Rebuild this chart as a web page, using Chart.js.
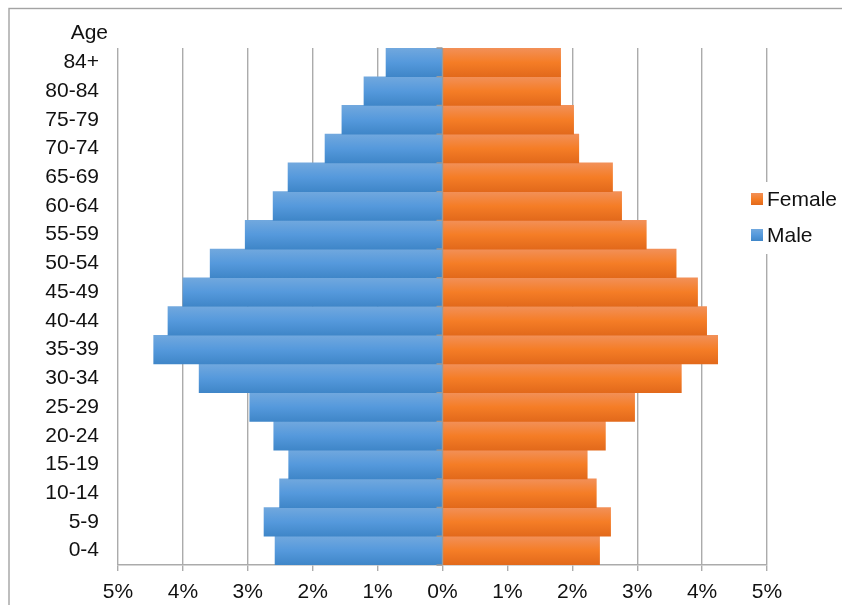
<!DOCTYPE html>
<html lang="en">
<head>
    <meta charset="UTF-8">
    <title>Age pyramid</title>
    <script src="https://cdn.jsdelivr.net/npm/chart.js"></script>
    <style>
        html, body { margin: 0; padding: 0; background: #fff; }
        .wrap { position: relative; width: 842px; height: 605px; }
    </style>
</head>
<body>
<div class="wrap">
    <canvas id="chart" width="842" height="605"></canvas>
</div>
<script>
    // age groups, bottom to top
    const ageGroups = ['0-4', '5-9', '10-14', '15-19', '20-24', '25-29', '30-34', '35-39', '40-44',
        '45-49', '50-54', '55-59', '60-64', '65-69', '70-74', '75-79', '80-84', '84+'];
    // percent of population
    const male = [2.58, 2.75, 2.51, 2.37, 2.60, 2.97, 3.75, 4.45, 4.23,
        4.00, 3.58, 3.04, 2.61, 2.38, 1.81, 1.55, 1.21, 0.87];
    const female = [2.42, 2.59, 2.37, 2.23, 2.51, 2.96, 3.68, 4.24, 4.07,
        3.93, 3.60, 3.14, 2.76, 2.62, 2.10, 2.02, 1.82, 1.82];
    const xTicks = [-5, -4, -3, -2, -1, 0, 1, 2, 3, 4, 5];

    const FONT = '"Liberation Sans", Arial, sans-serif';
    const blueStops = ['#71a8de', '#5599dc', '#3f86c8'];
    const orangeStops = ['#f29058', '#f57d26', '#e2691b'];

    function vGrad(c, y0, y1, stops) {
        const g = c.createLinearGradient(0, y0, 0, y1);
        g.addColorStop(0, stops[0]);
        g.addColorStop(0.5, stops[1]);
        g.addColorStop(1, stops[2]);
        return g;
    }

    function barFill(stops) {
        return function (ctx) {
            const ys = ctx.chart.scales.y;
            if (!ys || ctx.dataIndex === undefined) return stops[1];
            const mid = ys.getPixelForValue(ctx.dataIndex);
            const half = ys.height / ageGroups.length / 2;
            if (!isFinite(mid) || !isFinite(half) || half <= 0) return stops[1];
            return vGrad(ctx.chart.ctx, mid - half, mid + half, stops);
        };
    }

    const extras = {
        id: 'extras',
        beforeDraw(chart) {
            const c = chart.ctx;
            c.save();
            c.strokeStyle = '#a3a3a3';
            c.lineWidth = 1.4;
            c.strokeRect(9, 8.5, 1000, 1000);
            c.restore();
        },
        afterDatasetsDraw(chart) {
            const c = chart.ctx;
            const xs = chart.scales.x, ys = chart.scales.y;
            const x0 = Math.round(xs.getPixelForValue(0)) - 0.5;
            c.save();
            c.strokeStyle = '#9a9a9a';
            c.lineWidth = 1.4;
            c.beginPath();
            c.moveTo(x0, ys.top);
            c.lineTo(x0, ys.bottom);
            const step = ys.height / ageGroups.length;
            for (let i = 0; i <= ageGroups.length; i++) {
                const y = ys.top + i * step;
                c.moveTo(x0 - 6, y);
                c.lineTo(x0, y);
            }
            c.stroke();
            c.restore();
        },
        afterDraw(chart) {
            const c = chart.ctx;
            c.save();
            c.fillStyle = '#111';
            c.font = '21px ' + FONT;
            c.textAlign = 'right';
            c.textBaseline = 'alphabetic';
            c.fillText('Age', 108, 39);

            // legend
            c.fillStyle = '#fff';
            c.fillRect(747, 182, 95, 72);
            const items = [['Female', orangeStops, 199], ['Male', blueStops, 235]];
            items.forEach(([txt, stops, y]) => {
                c.fillStyle = vGrad(c, y - 6, y + 6, stops);
                c.fillRect(751, y - 6, 12, 12);
                c.fillStyle = '#111';
                c.textAlign = 'left';
                c.textBaseline = 'middle';
                c.fillText(txt, 767, y + 1);
            });
            c.restore();
        }
    };

    new Chart(document.getElementById('chart'), {
        type: 'bar',
        data: {
            labels: ageGroups,
            datasets: [
                {
                    label: 'Male',
                    data: male.map(v => -v),
                    backgroundColor: barFill(blueStops),
                    borderWidth: 0,
                    barPercentage: 1,
                    categoryPercentage: 1
                },
                {
                    label: 'Female',
                    data: female,
                    backgroundColor: barFill(orangeStops),
                    borderWidth: 0,
                    barPercentage: 1,
                    categoryPercentage: 1
                }
            ]
        },
        options: {
            indexAxis: 'y',
            responsive: false,
            animation: false,
            layout: { padding: { left: 0, right: 75, top: 48, bottom: 0 } },
            plugins: {
                legend: { display: false },
                tooltip: { enabled: false }
            },
            scales: {
                x: {
                    stacked: true,
                    min: -5,
                    max: 5,
                    afterBuildTicks: (s) => { s.ticks = xTicks.map(v => ({ value: v })); },
                    afterFit: (s) => { s.height = 40; },
                    grid: {
                        color: '#ababab',
                        lineWidth: 1.4,
                        drawTicks: true,
                        tickLength: 6,
                        tickColor: '#ababab'
                    },
                    border: { display: true, color: '#ababab', width: 1.4 },
                    ticks: {
                        padding: 9,
                        color: '#111',
                        font: { family: FONT, size: 21 },
                        callback: (v) => Math.abs(v) + '%'
                    }
                },
                y: {
                    stacked: true,
                    reverse: true,
                    afterFit: (s) => { s.width = 118; },
                    grid: { display: false, drawTicks: false },
                    border: { display: false },
                    ticks: {
                        padding: 19,
                        color: '#111',
                        font: { family: FONT, size: 21 },
                        autoSkip: false
                    }
                }
            }
        },
        plugins: [extras]
    });
</script>
</body>
</html>
